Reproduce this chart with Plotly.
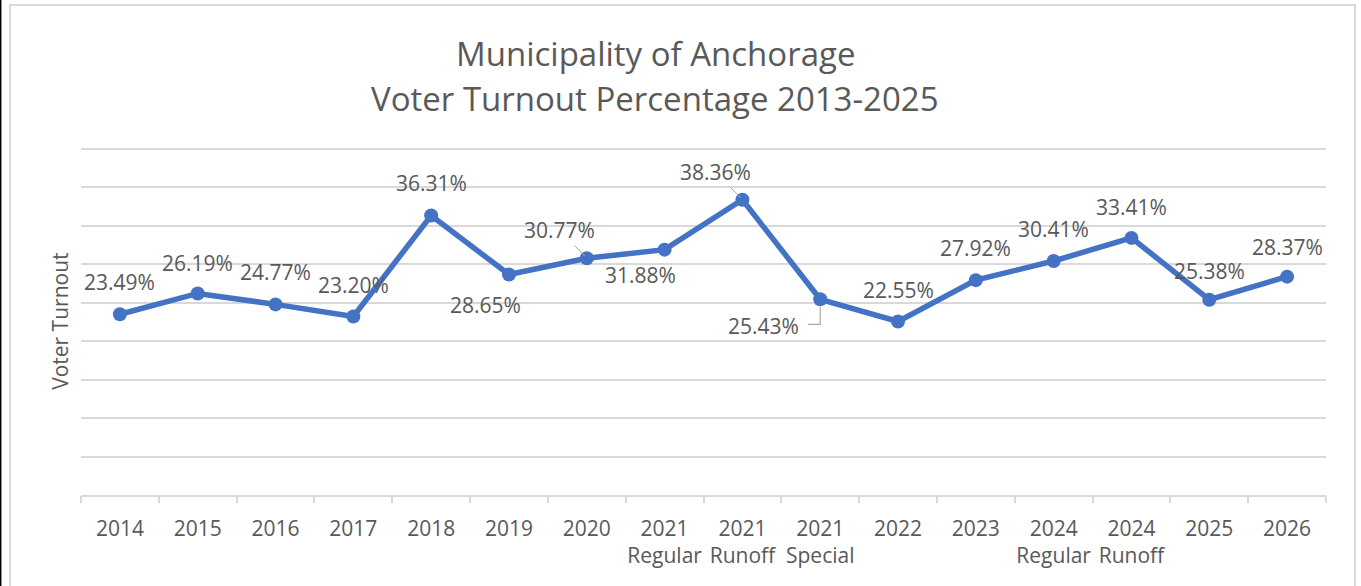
import plotly.graph_objects as go

categories = ["2014", "2015", "2016", "2017", "2018", "2019", "2020",
              "2021<br>Regular", "2021<br>Runoff", "2021<br>Special",
              "2022", "2023", "2024<br>Regular", "2024<br>Runoff", "2025", "2026"]
turnout = [23.49, 26.19, 24.77, 23.20, 36.31, 28.65, 30.77, 31.88,
           38.36, 25.43, 22.55, 27.92, 30.41, 33.41, 25.38, 28.37]
value_labels = ["23.49%", "26.19%", "24.77%", "23.20%", "36.31%", "28.65%", "30.77%", "31.88%",
                "38.36%", "25.43%", "22.55%", "27.92%", "30.41%", "33.41%", "25.38%", "28.37%"]
gridlines = [0, 5, 10, 15, 20, 25, 30, 35, 40, 45]
title_lines = ["Municipality of Anchorage", "Voter Turnout Percentage 2013-2025"]
y_title = "Voter Turnout"

# label offsets in pixels (dx right, dy down) and leader flag
label_offsets = [(0, -32), (0, -30), (0, -32), (0, -31), (0, -33), (-23, 30), (-27, -28),
                 (-24, 25), (-27, -28), (-57, 27), (0, -31), (0, -32), (0, -32),
                 (0, -31), (0, -29), (0, -30)]
leader = [False, False, False, False, False, False, True, False, True, "elbow",
          False, False, False, False, False, False]

W, H = 1361, 586
Y_MAX = 46.0
L, R, B = 81, 35, 91
T = H - B - 346.0 * Y_MAX / 45.0
PW, PH = W - L - R, H - T - B

def px_x(p):
    return (p - L) / PW

def px_y(p):
    return (H - B - p) / PH

TEXT = "#595959"
GRID = "#d9d9d9"
BLUE = "#4472C4"
FONT = "Open Sans"

idx = list(range(len(categories)))

fig = go.Figure()
fig.add_trace(go.Scatter(
    x=idx, y=turnout, mode="lines+markers",
    line=dict(color=BLUE, width=5.5),
    marker=dict(color=BLUE, size=14),
    hoverinfo="skip", showlegend=False,
))

annotations = []
shapes = []
for i, val, txt, (dx, dy), ld in zip(idx, turnout, value_labels, label_offsets, leader):
    if ld is True:
        annotations.append(dict(
            x=i, y=val, xref="x", yref="y", text=txt, showarrow=True,
            ax=dx, ay=dy, arrowhead=0, arrowwidth=1, arrowcolor="#a6a6a6", standoff=3,
            font=dict(family=FONT, size=21, color=TEXT),
        ))
    else:
        annotations.append(dict(
            x=i, y=val, xref="x", yref="y", text=txt, showarrow=False,
            xshift=dx, yshift=-dy,
            font=dict(family=FONT, size=21, color=TEXT),
        ))
        if ld == "elbow":
            shapes.append(dict(
                type="path", xref="x", yref="y", xsizemode="pixel", ysizemode="pixel",
                xanchor=i, yanchor=val,
                path="M0,-8 L0,-25 L-12,-25",
                line=dict(color="#a6a6a6", width=1.2),
            ))

# title lines
annotations.append(dict(x=px_x(655), y=px_y(54), xref="paper", yref="paper",
                        text=title_lines[0], showarrow=False, xanchor="center", yanchor="middle",
                        font=dict(family=FONT, size=33, color=TEXT)))
annotations.append(dict(x=px_x(655), y=px_y(99), xref="paper", yref="paper",
                        text=title_lines[1], showarrow=False, xanchor="center", yanchor="middle",
                        font=dict(family=FONT, size=33, color=TEXT)))
# y axis title
annotations.append(dict(x=px_x(60), y=px_y(322), xref="paper", yref="paper",
                        text=y_title, showarrow=False, textangle=-90,
                        xanchor="center", yanchor="middle",
                        font=dict(family=FONT, size=21, color=TEXT)))

# chart frame
shapes.append(dict(type="rect", xref="paper", yref="paper",
                   x0=px_x(10), x1=px_x(1355), y0=px_y(600), y1=px_y(5.5),
                   line=dict(color=GRID, width=2), layer="below"))
shapes.append(dict(type="line", xref="paper", yref="paper",
                   x0=px_x(0.7), x1=px_x(0.7), y0=px_y(600), y1=px_y(-5),
                   line=dict(color="black", width=1.5)))

fig.update_layout(
    width=W, height=H,
    margin=dict(l=L, r=R, t=T, b=B, pad=0, autoexpand=False),
    paper_bgcolor="white", plot_bgcolor="white",
    annotations=annotations, shapes=shapes,
    xaxis=dict(range=[-0.5, len(categories) - 0.5],
               tickmode="array", tickvals=idx, ticktext=categories, tickangle=0,
               ticks="", showline=True, linecolor=GRID, linewidth=1.5,
               showgrid=False, zeroline=False, ticklabelstandoff=14, automargin=False,
               tickfont=dict(family=FONT, size=21, color=TEXT)),
    xaxis2=dict(overlaying="x", range=[-0.5, len(categories) - 0.5],
                tickmode="array", tickvals=[i - 0.5 for i in idx] + [len(categories) - 0.5],
                ticktext=[""] * (len(categories) + 1), side="bottom",
                ticks="outside", ticklen=7, tickwidth=1.5, tickcolor=GRID,
                showline=False, showgrid=False, zeroline=False, automargin=False),
    yaxis=dict(range=[0, Y_MAX], tickmode="array", tickvals=gridlines,
               showgrid=True, gridcolor=GRID, gridwidth=1.5,
               showticklabels=False, zeroline=False, showline=False, ticks="", automargin=False),
)
# invisible trace to activate the boundary-tick axis
fig.add_trace(go.Scatter(x=[idx[0]], y=[turnout[0]], xaxis="x2", mode="markers",
                         marker=dict(opacity=0), hoverinfo="skip", showlegend=False))

fig.write_html("out.html", config={"displayModeBar": False},
               post_script="document.body.style.margin='0';document.body.style.overflow='hidden';")
